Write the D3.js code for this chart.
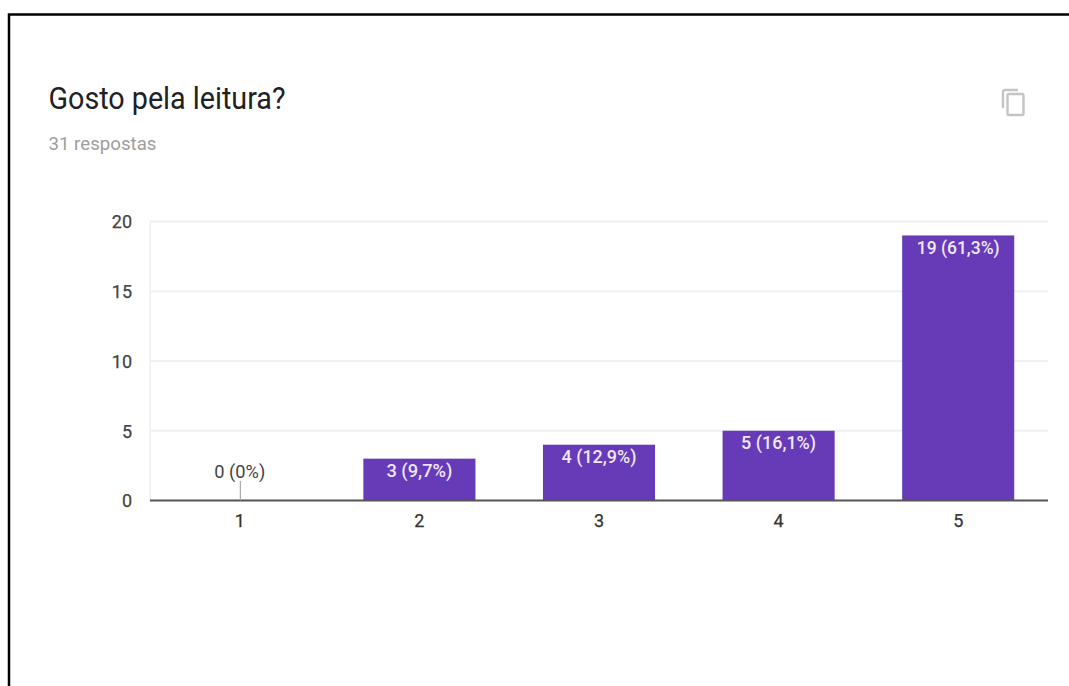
<!DOCTYPE html>
<html>
<head>
<meta charset="utf-8">
<script src="https://cdn.jsdelivr.net/npm/d3@7"></script>
<style>
  html, body { margin: 0; padding: 0; background: #fff; overflow: hidden; }
  text { font-family: Roboto, sans-serif; }
</style>
</head>
<body>
<div id="chart"></div>
<script>
const width = 1069;
const height = 686;

const categories = ["1", "2", "3", "4", "5"];
const counts = [0, 3, 4, 5, 19];
const valueLabels = ["0 (0%)", "3 (9,7%)", "4 (12,9%)", "5 (16,1%)", "19 (61,3%)"];
const yTicks = [0, 5, 10, 15, 20];

const svg = d3.select("#chart")
  .append("svg")
  .attr("width", width)
  .attr("height", height)
  .style("display", "block");

// black frame of the screenshot
svg.append("path")
  .attr("d", "M9,686V14.5H1069")
  .attr("fill", "none")
  .attr("stroke", "#000")
  .attr("stroke-width", 2.5);

svg.append("text")
  .attr("x", 48.5)
  .attr("y", 109)
  .attr("font-size", 31)
  .attr("fill", "#212121")
  .attr("textLength", 237)
  .attr("lengthAdjust", "spacingAndGlyphs")
  .text("Gosto pela leitura?");

svg.append("text")
  .attr("x", 48.5)
  .attr("y", 150)
  .attr("font-size", 18)
  .attr("fill", "#9e9e9e")
  .attr("textLength", 108)
  .attr("lengthAdjust", "spacingAndGlyphs")
  .text("31 respostas");

// copy icon
const icon = svg.append("g")
  .attr("fill", "none")
  .attr("stroke", "#c4c4c4")
  .attr("stroke-width", 2.4);
icon.append("path").attr("d", "M1003,108V92a2,2 0 0 1 2,-2H1018");
icon.append("rect")
  .attr("x", 1007.5)
  .attr("y", 94)
  .attr("width", 16)
  .attr("height", 21)
  .attr("rx", 1.5);

const x = d3.scaleBand()
  .domain(categories)
  .range([150, 1048])
  .paddingInner(0.376)
  .paddingOuter(0.188);

const y = d3.scaleLinear()
  .domain([0, 20])
  .range([500.5, 221.5]);

// grid lines
svg.append("g")
  .selectAll("line")
  .data(yTicks.filter(d => d > 0))
  .enter()
  .append("line")
  .attr("x1", 150)
  .attr("x2", 1048)
  .attr("y1", d => y(d))
  .attr("y2", d => y(d))
  .attr("stroke", "#f0f0f0")
  .attr("stroke-width", 2);

svg.append("line")
  .attr("x1", 150)
  .attr("x2", 150)
  .attr("y1", y(20))
  .attr("y2", y(0))
  .attr("stroke", "#f3f3f3")
  .attr("stroke-width", 2);

// bars
svg.append("g")
  .selectAll("rect")
  .data(counts)
  .enter()
  .append("rect")
  .attr("x", (d, i) => x(categories[i]))
  .attr("y", d => y(d))
  .attr("width", x.bandwidth())
  .attr("height", d => y(0) - y(d))
  .attr("fill", "#673ab7");

// y axis labels
const yAxis = d3.axisLeft(y).tickValues(yTicks).tickSize(0).tickPadding(0);
const yG = svg.append("g")
  .attr("transform", "translate(132,0)")
  .call(yAxis);
yG.select(".domain").remove();
yG.selectAll("text")
  .attr("font-size", 18)
  .attr("fill", "#444")
  .attr("stroke", "#444")
  .attr("stroke-width", 0.25)
  .style("font-family", "Roboto, sans-serif")
  .attr("dy", "0.35em");

// x axis
const xAxis = d3.axisBottom(x).tickSize(0).tickPadding(0);
const xG = svg.append("g")
  .attr("transform", "translate(0,514)")
  .call(xAxis);
xG.select(".domain").remove();
xG.selectAll("text")
  .attr("font-size", 18)
  .attr("fill", "#333")
  .attr("stroke", "#333")
  .attr("stroke-width", 0.25)
  .style("font-family", "Roboto, sans-serif");

svg.append("line")
  .attr("x1", 150)
  .attr("x2", 1048)
  .attr("y1", y(0))
  .attr("y2", y(0))
  .attr("stroke", "#555")
  .attr("stroke-width", 2);

// stem for the empty bar
svg.append("line")
  .attr("x1", x("1") + x.bandwidth() / 2 + 0.5)
  .attr("x2", x("1") + x.bandwidth() / 2 + 0.5)
  .attr("y1", 481)
  .attr("y2", y(0))
  .attr("stroke", "#999")
  .attr("stroke-width", 1);

// value labels
svg.append("g")
  .selectAll("text")
  .data(counts)
  .enter()
  .append("text")
  .attr("x", (d, i) => x(categories[i]) + x.bandwidth() / 2)
  .attr("y", d => d === 0 ? y(0) - 23 : y(d) + 18.5)
  .attr("text-anchor", "middle")
  .attr("font-size", 18)
  .attr("font-weight", d => d === 0 ? 400 : 500)
  .attr("fill", d => d === 0 ? "#444" : "#efe8f8")
  .attr("textLength", (d, i) => [51, 66, 75, 75, 83][i])
  .attr("lengthAdjust", "spacingAndGlyphs")
  .text((d, i) => valueLabels[i]);
</script>
</body>
</html>
